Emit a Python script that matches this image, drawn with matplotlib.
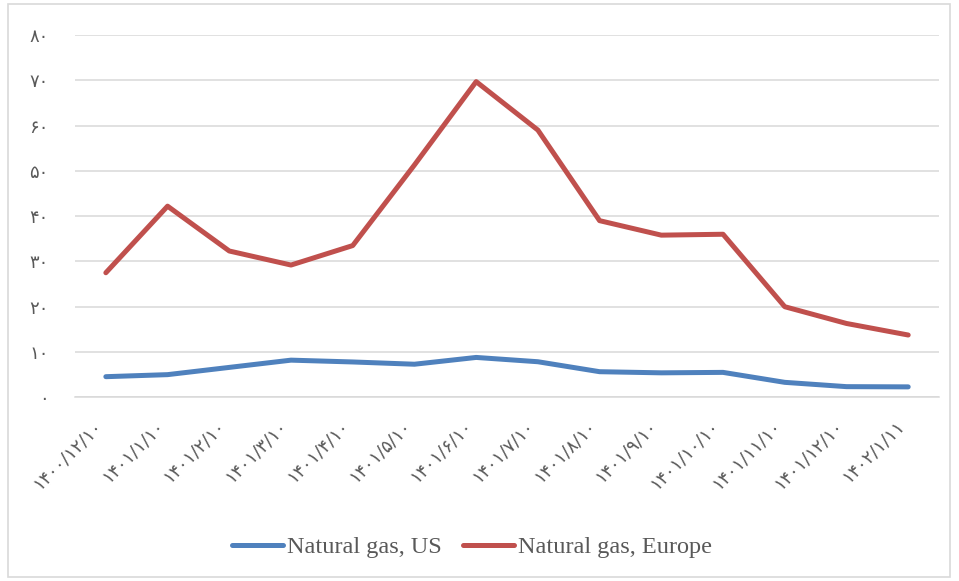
import matplotlib
matplotlib.use("Agg")
import matplotlib.pyplot as plt
from matplotlib.patches import Rectangle

dates = ["۱۴۰۰/۱۲/۱۰", "۱۴۰۱/۱/۱۰", "۱۴۰۱/۲/۱۰", "۱۴۰۱/۳/۱۰", "۱۴۰۱/۴/۱۰",
         "۱۴۰۱/۵/۱۰", "۱۴۰۱/۶/۱۰", "۱۴۰۱/۷/۱۰", "۱۴۰۱/۸/۱۰", "۱۴۰۱/۹/۱۰",
         "۱۴۰۱/۱۰/۱۰", "۱۴۰۱/۱۱/۱۰", "۱۴۰۱/۱۲/۱۰", "۱۴۰۲/۱/۱۱"]
gas_us = [4.55, 5.0, 6.6, 8.2, 7.8, 7.3, 8.8, 7.85, 5.65, 5.4, 5.5, 3.3, 2.35, 2.3]
gas_europe = [27.5, 42.2, 32.3, 29.2, 33.5, 51.3, 69.7, 59.0, 39.0, 35.8, 36.0, 20.0, 16.3, 13.75]
y_ticks = [0, 10, 20, 30, 40, 50, 60, 70, 80]
y_labels = ["۰", "۱۰", "۲۰", "۳۰", "۴۰", "۵۰", "۶۰", "۷۰", "۸۰"]

fig = plt.figure(figsize=(9.59, 5.81), dpi=100)
ax = fig.add_axes([0.0782, 0.3162, 0.901, 0.6236])

x = list(range(len(dates)))
ax.plot(x, gas_us, color="#4F81BD", lw=3.6, solid_capstyle="round", label="Natural gas, US")
ax.plot(x, gas_europe, color="#C0504D", lw=3.6, solid_capstyle="round", label="Natural gas, Europe")

ax.set_xlim(-0.5, len(dates) - 0.5)
ax.set_ylim(0, 80)
ax.set_yticks(y_ticks)
ax.set_yticklabels(y_labels, family=["DejaVu Sans"], fontsize=13, color="#595959")
ax.set_xticks(x)
ax.set_xticklabels(dates, rotation=45, ha="right", va="top",
                   family=["DejaVu Sans"], fontsize=13, color="#595959")
ax.tick_params(axis="both", length=0)
ax.tick_params(axis="y", pad=19)
ax.tick_params(axis="x", pad=14)

ax.grid(axis="y", color="#d9d9d9", lw=1.1)
ax.set_axisbelow(True)
for s in ["top", "right", "left"]:
    ax.spines[s].set_visible(False)
ax.spines["bottom"].set_color("#d9d9d9")
ax.spines["bottom"].set_linewidth(1.1)

fig.legend(loc="center", bbox_to_anchor=(472 / 959, 1 - 547 / 581), ncol=2, frameon=False,
           prop={"family": ["Liberation Serif"], "size": 17.5}, labelcolor="#595959",
           handlelength=2.1, handletextpad=0.15, columnspacing=0.9)

fig.patches.append(Rectangle((8 / 959, 4 / 581), 942 / 959, 573 / 581, transform=fig.transFigure,
                             fill=False, edgecolor="#d9d9d9", lw=1.2))

fig.savefig("out.png", dpi=100)
